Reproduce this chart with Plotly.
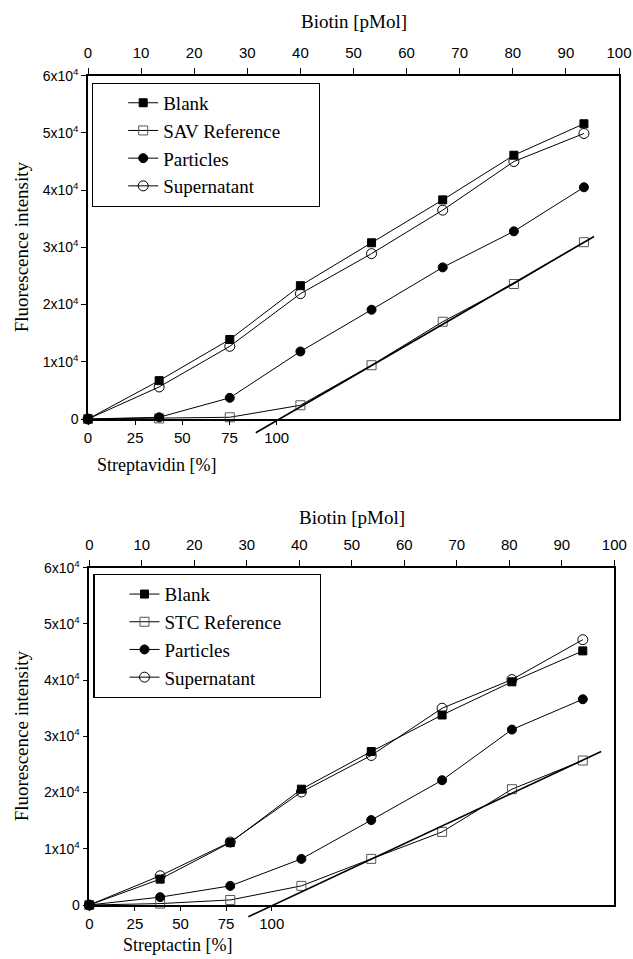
import plotly.graph_objects as go

# ---------------- data ----------------
biotin_ticks = [0, 10, 20, 30, 40, 50, 60, 70, 80, 90, 100]
percent_ticks = [0, 25, 50, 75, 100]
y_tickvals = [0, 10000, 20000, 30000, 40000, 50000, 60000]
y_ticktext = ["0", "1x10<sup>4</sup>", "2x10<sup>4</sup>", "3x10<sup>4</sup>",
              "4x10<sup>4</sup>", "5x10<sup>4</sup>", "6x10<sup>4</sup>"]

# upper panel (streptavidin)
biotin_top = [0, 13.4, 26.7, 40.0, 53.4, 66.8, 80.2, 93.4]
blank_top = [0, 6700, 13900, 23300, 30800, 38300, 46100, 51600]
sav_ref = [0, 100, 300, 2400, 9400, 17000, 23600, 30900]
particles_top = [0, 300, 3700, 11800, 19100, 26500, 32800, 40500]
supernatant_top = [0, 5600, 12700, 21900, 28900, 36500, 45000, 49900]
fit_top_x = [31.6, 95.3]
fit_top_y = [-2400, 31900]
pct_max_top = 281.4   # streptavidin % at biotin = 100 pMol

# lower panel (streptactin)
biotin_bot = [0, 13.5, 26.85, 40.4, 53.7, 67.2, 80.5, 94.0]
blank_bot = [0, 4600, 11100, 20600, 27300, 33800, 39700, 45200]
stc_ref = [0, 250, 900, 3400, 8200, 13000, 20600, 25700]
particles_bot = [0, 1400, 3400, 8200, 15100, 22200, 31200, 36600]
supernatant_bot = [0, 5200, 11200, 20100, 26600, 35000, 40100, 47200]
fit_bot_x = [30.3, 97.5]
fit_bot_y = [-2100, 27300]
pct_max_bot = 287.8

# ---------------- layout geometry ----------------
W, H = 633, 959
Y_MAX = 60000
top_dx = [88 / W, 619 / W]
top_dy = [(H - 419) / H, (H - 75.7) / H]
bot_dx = [89.3 / W, 614.3 / W]
bot_dy = [(H - 905) / H, (H - 567.7) / H]

SERIF = "Liberation Serif, Times New Roman, serif"
SANS = "Liberation Sans, Arial, sans-serif"
PAD = "\u00a0" * 7

fig = go.Figure()

series_styles = [
    dict(symbol="square", color="black", line=dict(color="black", width=1), size=8),
    dict(symbol="square-open", color="#555555", line=dict(color="#555555", width=1), size=9),
    dict(symbol="circle", color="black", line=dict(color="black", width=1), size=9),
    dict(symbol="circle-open", color="black", line=dict(color="black", width=1), size=10),
]


def add_panel(xs, series, names, xaxis, yaxis, legend):
    for vals, name, st in zip(series, names, series_styles):
        fig.add_trace(go.Scatter(
            x=xs, y=vals, name=name, mode="lines+markers",
            xaxis=xaxis, yaxis=yaxis, legend=legend,
            line=dict(color="black", width=1),
            marker=dict(symbol=st["symbol"], size=st["size"], color=st["color"],
                        line=st["line"]),
            cliponaxis=False,
        ))


add_panel(biotin_top, [blank_top, sav_ref, particles_top, supernatant_top],
          ["Blank", "SAV Reference" + PAD, "Particles", "Supernatant"], "x", "y", "legend")
add_panel(biotin_bot, [blank_bot, stc_ref, particles_bot, supernatant_bot],
          ["Blank", "STC Reference" + PAD, "Particles", "Supernatant"], "x3", "y2", "legend2")

# invisible anchors so the percent axes are drawn
for xa, ya in [("x2", "y"), ("x4", "y2")]:
    fig.add_trace(go.Scatter(x=[0], y=[0], xaxis=xa, yaxis=ya, mode="markers",
                             marker=dict(opacity=0), showlegend=False, hoverinfo="skip"))


def ypaper(v, dom):
    return dom[0] + v / Y_MAX * (dom[1] - dom[0])


shapes = []
for fx, fy, xref, dom in [(fit_top_x, fit_top_y, "x", top_dy), (fit_bot_x, fit_bot_y, "x3", bot_dy)]:
    shapes.append(dict(type="line", xref=xref, yref="paper",
                       x0=fx[0], x1=fx[1], y0=ypaper(fy[0], dom), y1=ypaper(fy[1], dom),
                       line=dict(color="black", width=1.6)))

tick_font = dict(family=SANS, size=15, color="black")
common_x = dict(showgrid=False, zeroline=False, showline=True, linecolor="black", linewidth=1.5,
                ticks="outside", tickcolor="black", tickwidth=1, ticklen=6,
                tickfont=tick_font)
common_y = dict(showgrid=False, zeroline=False, showline=True, mirror=True, linecolor="black",
                linewidth=1.5, ticks="outside", tickcolor="black", tickwidth=1, ticklen=5,
                range=[0, Y_MAX], tickvals=y_tickvals, ticktext=y_ticktext,
                tickfont=dict(family=SANS, size=14, color="black"))

legend_common = dict(xanchor="left", yanchor="top", bgcolor="white", bordercolor="black",
                     borderwidth=1.2, font=dict(family=SERIF, size=19, color="black"),
                     traceorder="normal", indentation=30, tracegroupgap=0)

fig.update_layout(
    width=W, height=H, margin=dict(l=0, r=0, t=0, b=0, autoexpand=False),
    paper_bgcolor="white", plot_bgcolor="white", showlegend=True,
    xaxis=dict(common_x, domain=top_dx, anchor="y", side="top", range=[0, 100],
               tickvals=biotin_ticks, ticklabelstandoff=4),
    xaxis2=dict(common_x, domain=top_dx, anchor="y", side="bottom", overlaying="x",
                range=[0, pct_max_top], tickvals=percent_ticks, ticklen=4),
    yaxis=dict(common_y, domain=top_dy, anchor="x"),
    xaxis3=dict(common_x, domain=bot_dx, anchor="y2", side="top", range=[0, 100],
                tickvals=biotin_ticks, ticklabelstandoff=4),
    xaxis4=dict(common_x, domain=bot_dx, anchor="y2", side="bottom", overlaying="x3",
                range=[0, pct_max_bot], tickvals=percent_ticks, ticklen=4),
    yaxis2=dict(common_y, domain=bot_dy, anchor="x3"),
    legend=dict(legend_common, x=92 / W, y=(H - 82.7) / H),
    legend2=dict(legend_common, x=93.3 / W, y=(H - 574) / H),
    shapes=shapes,
)

title_font = dict(family=SERIF, size=19, color="black")
annots = [
    dict(text="Biotin [pMol]", x=(top_dx[0] + top_dx[1]) / 2, y=(H - 22) / H),
    dict(text="Biotin [pMol]", x=(bot_dx[0] + bot_dx[1]) / 2, y=(H - 517) / H),
    dict(text="Streptavidin [%]", x=156 / W, y=(H - 465) / H, font=dict(family=SERIF, size=18, color="black")),
    dict(text="Streptactin [%]", x=177 / W, y=(H - 945) / H, font=dict(family=SERIF, size=18, color="black")),
    dict(text="Fluorescence intensity", x=21 / W, y=(top_dy[0] + top_dy[1]) / 2, textangle=-90),
    dict(text="Fluorescence intensity", x=21 / W, y=(bot_dy[0] + bot_dy[1]) / 2, textangle=-90),
]
for a in annots:
    a.setdefault("font", title_font)
    fig.add_annotation(xref="paper", yref="paper", showarrow=False,
                       xanchor="center", yanchor="middle", **a)

fig.write_html("out.html")
